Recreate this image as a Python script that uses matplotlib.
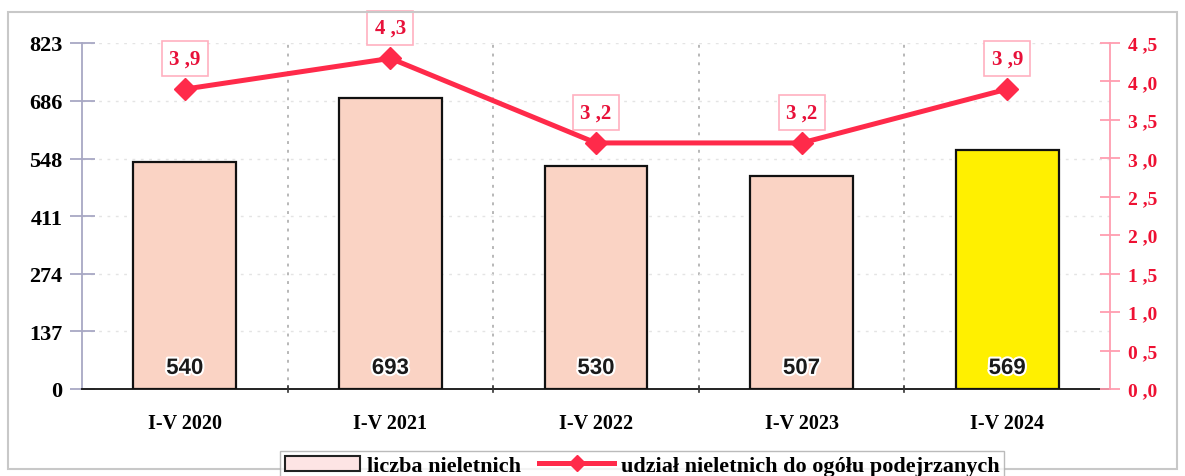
import numpy as np
import matplotlib.pyplot as plt
from matplotlib.lines import Line2D
from matplotlib.patches import Patch, Rectangle
import matplotlib.patheffects as pe

okresy = ["I-V 2020", "I-V 2021", "I-V 2022", "I-V 2023", "I-V 2024"]
liczba = [540, 693, 530, 507, 569]
udzial = [3.9, 4.3, 3.2, 3.2, 3.9]
lewe_ticki = [0, 137, 274, 411, 548, 686, 823]
prawe_ticki = [0.0, 0.5, 1.0, 1.5, 2.0, 2.5, 3.0, 3.5, 4.0, 4.5]

czerwony = "#ff2a4a"
kolory = ["#fad3c4"] * 4 + ["#fff000"]

fig = plt.figure(figsize=(11.85, 4.77), dpi=100)
ax = fig.add_axes([0.0692, 0.1824, 0.8675, 0.7254])
ax2 = ax.twinx()

x = np.arange(len(okresy))
ax.bar(x, liczba, width=0.5, color=kolory, edgecolor="#111111", linewidth=1.6, zorder=3)
for xi, v in zip(x, liczba):
    ax.text(xi, 24, str(v), ha="center", va="bottom", fontsize=16,
            fontweight="bold", family="Liberation Sans", color="#1a1a1a", zorder=4,
            path_effects=[pe.withStroke(linewidth=3, foreground="white")])

ax.set_xlim(-0.5, 4.5)
ax.set_ylim(0, 823)
ax.set_yticks(lewe_ticki)
ax.set_yticklabels([str(t) for t in lewe_ticki], fontsize=16, fontweight="bold",
                   family="Liberation Serif")
ax.set_xticks(x)
ax.set_xticklabels(okresy, fontsize=14.5, fontweight="bold", family="Liberation Serif")
ax.tick_params(axis="x", length=0, pad=17)
ax.tick_params(axis="y", direction="inout", length=18, color="#a8a8c4", width=1.3, pad=5)
for xb in [0.5, 1.5, 2.5, 3.5]:
    ax.axvline(xb, color="#b8b8b8", linestyle=(0, (1.5, 3)), linewidth=1.4, zorder=1)
    ax.plot([xb, xb], [-8, 8], color="#333333", linewidth=1.2, clip_on=False, zorder=5)
for t in lewe_ticki[1:]:
    ax.axhline(t, color="#e4e4e4", linestyle=(0, (2, 4)), linewidth=1, zorder=1)

for s in ["top", "right"]:
    ax.spines[s].set_visible(False)
ax.spines["left"].set_color("#a8a8c4")
ax.spines["left"].set_linewidth(1.3)
ax.spines["bottom"].set_color("#222222")
ax.spines["bottom"].set_linewidth(1.4)

ax2.plot(x, udzial, color=czerwony, linewidth=3.6, marker="D", markersize=11,
         zorder=5)
ax2.set_ylim(0, 4.5)
ax2.set_yticks(prawe_ticki)
ax2.set_yticklabels([f"{t:.1f}".replace(".", " ,") for t in prawe_ticki], fontsize=14,
                    fontweight="bold", family="Liberation Serif", color="#ee1133")
ax2.tick_params(axis="y", direction="inout", length=14, color="#ff9db0", width=1.3, pad=6)
for s in ["top", "left", "bottom"]:
    ax2.spines[s].set_visible(False)
ax2.spines["right"].set_color("#ff9db0")
ax2.spines["right"].set_linewidth(1.3)
for xi, v in zip(x, udzial):
    ax2.annotate(f"{v:.1f}".replace(".", " ,"), (xi, v), xytext=(0, 22),
                 textcoords="offset points", ha="center", va="center", fontsize=15,
                 fontweight="bold", family="Liberation Serif", color="#e8113a",
                 bbox=dict(boxstyle="square,pad=0.35", fc="white", ec="#ffb0c0", lw=1.2))

fig.patches.append(Rectangle((0.007, 0.015), 0.986, 0.958, transform=fig.transFigure,
                             fill=False, ec="#c8c8c8", lw=1.5))

uchwyty = [Patch(facecolor="#fde4e4", edgecolor="#222222", linewidth=1.5),
           Line2D([0], [0], color=czerwony, linewidth=3.6, marker="D", markersize=8)]
fig.legend(uchwyty, ["liczba nieletnich", "udział nieletnich do ogółu podejrzanych"],
           loc="upper center", bbox_to_anchor=(0.542, 0.052), borderaxespad=0, ncol=2,
           frameon=True, fancybox=False, edgecolor="#aaaaaa",
           prop={"family": "Liberation Serif", "size": 16, "weight": "bold"},
           handlelength=3.4, handletextpad=0.3, columnspacing=0.8, borderpad=0.2)

fig.savefig("out.png", dpi=100)
